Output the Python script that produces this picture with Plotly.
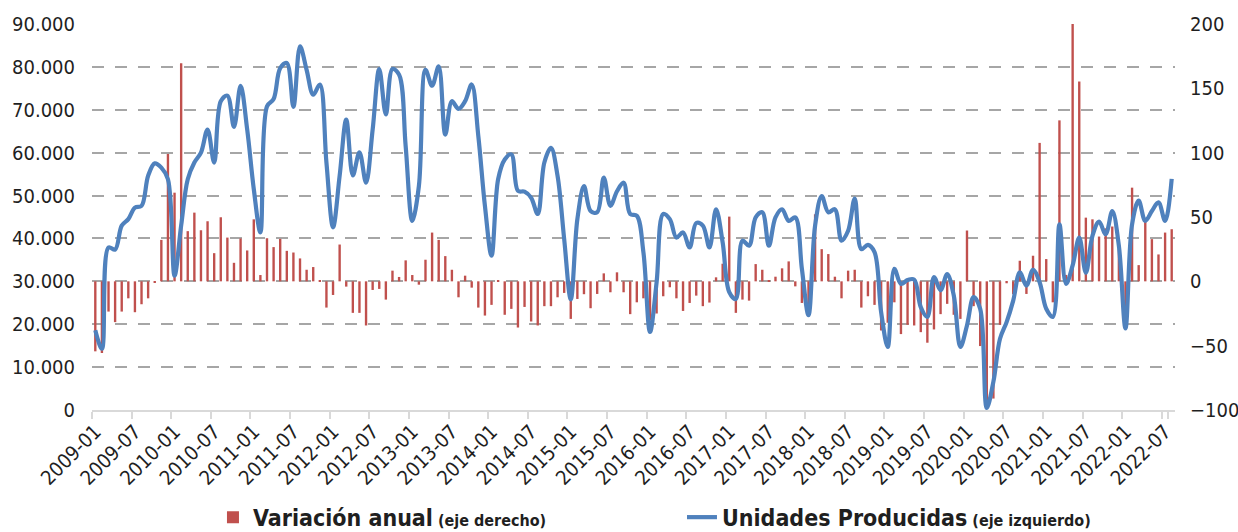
import plotly.graph_objects as go

# Categories: monthly labels 2009-01 .. 2022-08
meses = [f"{y}-{m:02d}" for y in range(2009, 2023) for m in range(1, 13)][:164]
etiquetas = meses[::6]

# Variación anual (%), eje derecho
variacion = [
    -54.4, -55.7, -23.5, -31.7, -23.5, -13.2, -24.0, -17.8, -13.2, -0.8, 32.2, 99.0,
    68.9, 169.5, 39.0, 53.4, 39.7, 46.7, 21.9, 49.8, 34.0, 14.4, 33.3, 24.0,
    48.2, 4.9, 33.5, 26.6, 33.0, 23.7, 22.4, 17.8, 9.0, 11.1, 0.3, -20.4,
    -10.6, 28.6, -4.1, -24.5, -24.5, -34.3, -6.7, -5.9, -14.2, 8.3, 3.4, 16.3,
    4.9, -2.6, 16.8, 37.9, 32.2, 19.6, 9.0, -12.4, 4.4, -4.9, -20.4, -26.6,
    -18.3, 0.3, -26.0, -21.4, -35.9, -19.9, -31.2, -34.3, -19.3, -19.3, -12.4, -9.0,
    -29.2, -13.7, -10.0, -20.9, -9.8, 6.2, -8.5, 7.0, -8.5, -25.5, -16.3, -13.2,
    -30.4, -25.0, -11.6, -4.6, -13.2, -23.0, -16.8, -11.1, -19.3, -16.5, 3.1, 13.7,
    50.3, -24.5, -14.2, -15.0, 13.4, 9.0, 0.5, 3.6, 10.1, 15.5, -3.9, -16.8,
    -19.3, 52.1, 25.0, 21.2, 3.6, -13.2, 8.3, 9.0, -20.4, -11.6, -18.3, -38.2,
    -32.2, -16.3, -41.0, -33.8, -34.3, -39.5, -47.7, -37.4, -25.5, -17.5, -26.0, -29.2,
    39.5, -19.3, -50.3, -93.7, -91.1, -33.8, -1.5, -10.0, 16.0, -9.8, 19.9, 107.6,
    17.3, -16.3, 125.1, 5.0, 200.0, 155.3, 49.5, 48.2, 34.8, 41.2, 42.6, 25.0,
    -23.5, 72.8, 12.6, 48.2, 32.8, 20.9, 37.9, 40.5,
]

# Unidades producidas, eje izquierdo
unidades = [
    18600, 14300, 37900, 37400, 43000, 44500, 47200, 47600, 54600, 57500, 56500, 53800,
    31300, 43000, 53800, 57700, 60000, 65400, 57700, 72000, 73300, 66000, 75600, 65400,
    51500, 41400, 70800, 72500, 79700, 80900, 70700, 84800, 79300, 73500, 75900, 57700,
    42600, 54600, 67700, 54700, 60100, 53000, 65400, 79500, 68900, 79500, 78200, 61500,
    44100, 52200, 79300, 75600, 80100, 64200, 72000, 70200, 72000, 75900, 63900, 47600,
    36000, 53800, 58400, 59600, 51100, 50900, 49500, 45700, 57700, 61100, 54600, 39900,
    25800, 44500, 52200, 46400, 46100, 54200, 47600, 51000, 53000, 45700, 45300, 36800,
    18200, 29800, 45700, 44500, 40200, 41400, 37900, 43600, 43000, 37900, 46800, 39100,
    27500, 25900, 39500, 38300, 44900, 46100, 38300, 44900, 46800, 44100, 44900, 32900,
    22100, 43000, 49900, 46100, 46800, 39500, 41800, 49300, 37500, 38500, 36800, 22800,
    14700, 32900, 29400, 30300, 30400, 24000, 21700, 31000, 27900, 31700, 26700, 14700,
    19700, 26300, 23600, 500, 6600, 16600, 20500, 25500, 32100, 29000, 32700, 29800,
    23600, 21700, 43300, 29400, 33700, 40200, 32000, 40600, 43900, 41000, 46400, 38300,
    19000, 43300, 48800, 44100, 46400, 48400, 44100, 53900,
]

FONT = "DejaVu Sans Condensed, Liberation Sans Narrow, Roboto, sans-serif"
TXT = "#1f1f1f"

fig = go.Figure()
fig.add_trace(go.Bar(
    x=meses, y=variacion, yaxis="y",
    name="<b>Variación anual</b><b><span style='font-size:16px'> (eje derecho)</span></b>",
    marker=dict(color="#C0504D", line=dict(width=0)),
))
fig.add_trace(go.Scatter(
    x=meses, y=unidades, yaxis="y2", mode="lines",
    name="<b>Unidades Producidas</b><b><span style='font-size:16px'> (eje izquierdo)</span></b>",
    line=dict(color="#4F81BD", width=4.2, shape="spline", smoothing=1),
))

fig.update_layout(
    width=1238, height=532,
    margin=dict(l=92, r=63, t=24, b=122, autoexpand=False),
    paper_bgcolor="white", plot_bgcolor="white",
    separators=",.",
    bargap=0.64,
    font=dict(family=FONT, color=TXT, size=20),
    showlegend=True,
    legend=dict(
        orientation="h", x=0.1117, xanchor="left", y=-0.222, yanchor="top",
        font=dict(family=FONT, size=23, color=TXT),
        entrywidth=424, entrywidthmode="pixels",
        bgcolor="rgba(0,0,0,0)", traceorder="normal",
    ),
    xaxis=dict(
        type="category", tickmode="array", tickvals=etiquetas, ticktext=etiquetas,
        tickangle=-45, tickson="boundaries", ticks="outside", ticklen=7,
        tickcolor="#D9D9D9", tickwidth=2,
        showline=True, linecolor="#D9D9D9", linewidth=2,
        showgrid=False, zeroline=False, automargin=False,
        tickfont=dict(family=FONT, size=20, color=TXT),
        range=[-0.5, 163.5],
    ),
    yaxis=dict(
        side="right", range=[-100, 200], tickmode="linear", tick0=-100, dtick=50,
        showgrid=False, zeroline=False, showline=False, ticks="", automargin=False,
        ticklabelstandoff=14,
        tickfont=dict(family=FONT, size=20, color=TXT),
    ),
    yaxis2=dict(
        overlaying="y", side="left", range=[0, 90000], tickmode="linear", tick0=0,
        dtick=10000, tickformat=",d", automargin=False,
        ticklabelstandoff=16,
        showgrid=True, gridcolor="#A6A6A6", gridwidth=2, griddash="12px,11px",
        zeroline=False, showline=False, ticks="",
        tickfont=dict(family=FONT, size=20, color=TXT),
    ),
)

fig.write_html(
    "out.html",
    config={"displayModeBar": False},
    post_script="document.body.style.margin='0px';",
)
